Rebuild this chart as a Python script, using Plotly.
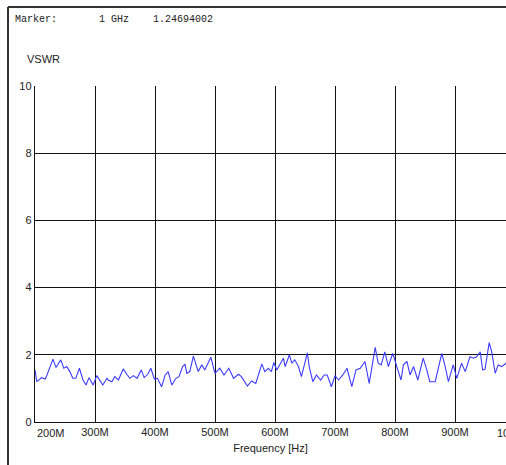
import plotly.graph_objects as go

# --- data ---
freq_mhz = [200, 203, 211, 217, 220, 230, 235, 243, 248, 253, 258, 263, 268, 274, 280, 285, 290, 297,
            303, 307, 313, 320, 322, 328, 333, 339, 347, 353, 358, 364, 370, 377, 382, 388, 393, 399,
            404, 411, 417, 422, 428, 435, 440, 446, 450, 453, 458, 464, 472, 478, 483, 493, 500,
            508, 515, 523, 531, 539, 544, 554, 561, 568, 578, 583, 589, 594, 598, 603, 608, 614,
            617, 624, 628, 633, 639, 644, 654, 657, 663, 669, 676, 682, 687, 694, 700, 706, 713,
            720, 728, 735, 742, 750, 757, 767, 772, 777, 783, 789, 796, 798, 803, 810, 814, 820,
            825, 831, 838, 847, 853, 858, 867, 878, 883, 889, 897, 903, 911, 917, 925, 931, 936,
            942, 946, 950, 957, 961, 967, 972, 978, 985, 992]
vswr = [1.55, 1.20, 1.32, 1.28, 1.40, 1.87, 1.62, 1.85, 1.60, 1.65, 1.50, 1.30, 1.30, 1.60, 1.25, 1.10, 1.32, 1.10,
        1.38, 1.28, 1.10, 1.30, 1.25, 1.20, 1.35, 1.25, 1.58, 1.42, 1.30, 1.38, 1.30, 1.55, 1.32, 1.42, 1.60, 1.28,
        1.30, 1.05, 1.40, 1.50, 1.10, 1.30, 1.35, 1.65, 1.72, 1.45, 1.50, 1.96, 1.50, 1.70, 1.55, 1.93, 1.45,
        1.60, 1.40, 1.60, 1.30, 1.42, 1.35, 1.07, 1.22, 1.15, 1.73, 1.50, 1.60, 1.50, 1.77, 1.55, 1.70, 1.90,
        1.65, 2.00, 1.75, 1.85, 1.65, 1.35, 2.06, 1.65, 1.20, 1.40, 1.25, 1.40, 1.40, 1.05, 1.38, 1.25, 1.40,
        1.60, 1.05, 1.55, 1.60, 1.80, 1.15, 2.22, 1.75, 1.70, 2.09, 1.65, 2.04, 1.95, 1.65, 1.25, 1.70, 1.80,
        1.40, 1.65, 1.25, 1.90, 1.55, 1.20, 1.20, 2.04, 1.70, 1.20, 1.70, 1.30, 1.75, 1.50, 1.94, 1.90, 1.94,
        2.09, 1.55, 1.57, 2.36, 2.10, 1.45, 1.70, 1.65, 1.75, 1.70]

x_tick_vals = [300, 400, 500, 600, 700, 800, 900]
x_tick_text = ["300M", "400M", "500M", "600M", "700M", "800M", "900M"]
y_tick_vals = [0, 2, 4, 6, 8, 10]
marker_text = "Marker:       1 GHz    1.24694002"

W, H = 506, 465
L, R, T, B = 35, 0, 86, 43
PW, PH = W - L - R, H - T - B


def px_x(px):
    return (px - L) / PW


def px_y(py):
    return (H - B - py) / PH


fig = go.Figure()
fig.add_trace(go.Scatter(x=freq_mhz, y=vswr, mode="lines",
                         line=dict(color="#3c3cff", width=1.1), showlegend=False))

axis_font = dict(family="Liberation Sans, Arial, sans-serif", size=11, color="#222222")
fig.update_layout(
    width=W, height=H,
    margin=dict(l=L, r=R, t=T, b=B),
    paper_bgcolor="white", plot_bgcolor="white",
    xaxis=dict(range=[200, 200 + PW / 0.6], tickvals=x_tick_vals, ticktext=x_tick_text,
               showgrid=True, gridcolor="#111111", gridwidth=1.2, zeroline=False,
               showline=True, linecolor="#111111", linewidth=1.4,
               ticks="", tickfont=axis_font,
               title=dict(text="Frequency [Hz]", font=axis_font, standoff=6)),
    yaxis=dict(range=[0, 10], tickvals=y_tick_vals, showgrid=True, gridcolor="#111111", gridwidth=1.2,
               zeroline=False, showline=True, linecolor="#111111", linewidth=1.4,
               ticks="", tickfont=axis_font),
)

# 200M label shifted right, 1000M label clipped at the right edge
fig.add_annotation(x=px_x(35), y=px_y(433), xref="paper", yref="paper", text="200M",
                   showarrow=False, xanchor="left", yanchor="middle", font=axis_font)
fig.add_annotation(x=px_x(514), y=px_y(433), xref="paper", yref="paper", text="1000M",
                   showarrow=False, xanchor="center", yanchor="middle", font=axis_font)
fig.add_annotation(x=px_x(25), y=px_y(59), xref="paper", yref="paper", text="VSWR",
                   showarrow=False, xanchor="left", yanchor="middle",
                   font=dict(family="Liberation Sans, Arial, sans-serif", size=11, color="#222222"))
fig.add_annotation(x=px_x(13), y=px_y(19), xref="paper", yref="paper", text=marker_text.replace(" ", "&nbsp;"),
                   showarrow=False, xanchor="left", yanchor="middle",
                   font=dict(family="Liberation Mono, Courier New, monospace", size=10, color="#222222"))

# outer frame
frame = dict(color="#333333", width=2)
fig.add_shape(type="line", xref="paper", yref="paper", x0=px_x(8), x1=px_x(W + 5),
              y0=px_y(7), y1=px_y(7), line=frame)
fig.add_shape(type="line", xref="paper", yref="paper", x0=px_x(8), x1=px_x(8),
              y0=px_y(7), y1=px_y(H + 5), line=frame)

fig.write_html("out.html", config={"displayModeBar": False},
               post_script="document.documentElement.style.overflow='hidden';"
                           "document.body.style.margin='0';document.body.style.overflow='hidden';")
